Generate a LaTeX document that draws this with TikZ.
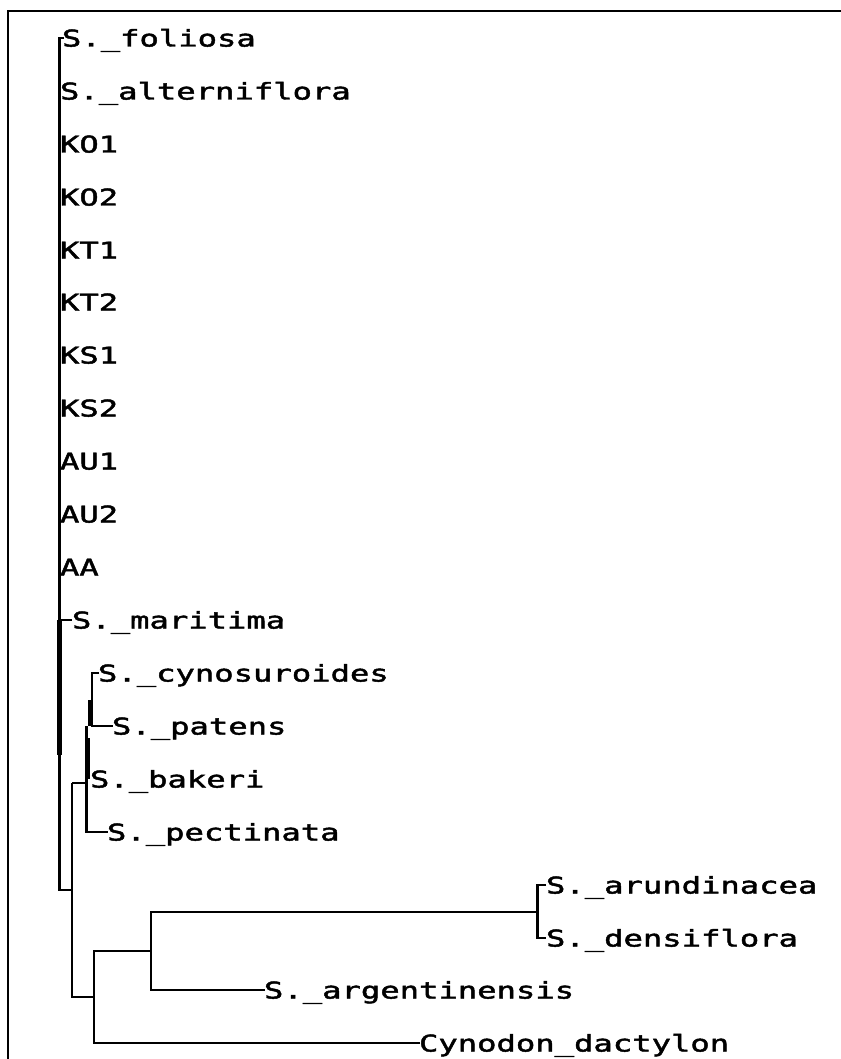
\documentclass[tikz,border=0pt]{standalone}
\usepackage{fontspec}
\newfontfamily\treefont[FakeStretch=1.4,FakeBold=2]{DejaVu Sans Mono}
\begin{document}
\begin{tikzpicture}[x=1pt,y=-1pt,
  branch/.style={draw=black,line width=2.8pt,line join=miter},
  fat/.style={draw=black,line width=5.8pt},
  taxon/.style={anchor=base west,inner sep=0pt,outer sep=0pt,text=black,font=\treefont\fontsize{23}{23}\selectfont}]
\useasboundingbox (0,0) rectangle (840,1059);
% frame
\coordinate (fbl) at (8,1062);
\coordinate (ftl) at (8,11);
\coordinate (ftr) at (843,11);
\draw[line width=2.4pt] (fbl) -- (ftl) -- (ftr);

% internal nodes
\coordinate (pA) at (59.5,38);     % polytomy top
\coordinate (pAb) at (59.5,890);   % polytomy bottom
\coordinate (pAf1) at (59.5,620);
\coordinate (pAf2) at (59.5,755);
\coordinate (root) at (72,783);
\coordinate (rootb) at (72,997);
\coordinate (pB) at (86.5,726);
\coordinate (pBb) at (86.5,832);
\coordinate (pBf1) at (87.5,738);
\coordinate (pBf2) at (87.5,779);
\coordinate (pB1) at (92,673);
\coordinate (pB1b) at (92,726);
\coordinate (pB1f) at (89.5,700);
\coordinate (pC) at (94,951);
\coordinate (pCb) at (94,1043);
\coordinate (pD) at (151,912);
\coordinate (pDb) at (151,990);
\coordinate (pE) at (537.5,885);
\coordinate (pEb) at (537.5,938);

% tick ends
\coordinate (t0) at (64,38);
\coordinate (t11) at (72,620);
\coordinate (t12) at (99,673);
\coordinate (t13) at (113,726);
\coordinate (t15) at (108,832);
\coordinate (t16) at (546,885);
\coordinate (t17) at (546,938);
\coordinate (t18) at (265,990);
\coordinate (t19) at (420,1043);

% labels
\node[taxon] (foliosa) at (62,46.5) {S.\_foliosa};
\node[taxon] (alterniflora) at (60,99.5) {S.\_alterniflora};
\node[taxon] (KO1) at (60,152.5) {KO1};
\node[taxon] (KO2) at (60,205.5) {KO2};
\node[taxon] (KT1) at (60,258.5) {KT1};
\node[taxon] (KT2) at (60,310.5) {KT2};
\node[taxon] (KS1) at (60,363.5) {KS1};
\node[taxon] (KS2) at (60,416.5) {KS2};
\node[taxon] (AU1) at (60,469.5) {AU1};
\node[taxon] (AU2) at (60,522.5) {AU2};
\node[taxon] (AA) at (60,575.5) {AA};
\node[taxon] (maritima) at (72,628.5) {S.\_maritima};
\node[taxon] (cyno) at (98,681.5) {S.\_cynosuroides};
\node[taxon] (patens) at (112,734.5) {S.\_patens};
\node[taxon] (bakeri) at (90,787.5) {S.\_bakeri};
\node[taxon] (pectinata) at (107,840.5) {S.\_pectinata};
\node[taxon] (arund) at (546,893.5) {S.\_arundinacea};
\node[taxon] (dens) at (546,946.5) {S.\_densiflora};
\node[taxon] (argent) at (264,998.5) {S.\_argentinensis};
\node[taxon] (cynodon) at (419,1051.5) {Cynodon\_dactylon};

% polytomy clade
\draw[branch] (t0) -- (pA) -- (pAb) -- (root |- pAb);
\draw[fat] (pAf1) -- (pAf2);
\draw[branch] (pAf1) -- (t11);
% clade B
\draw[branch] (t12) -- (pB1) -- (pB1b) -- (t13);
\draw[line width=3pt] (pB1f) -- (pB1f |- pB1b);
\draw[branch] (root) -- (pB |- root);
\draw[branch] (pB) -- (pBb) -- (t15);
\draw[line width=4.8pt] (pBf1) -- (pBf2);
% root
\draw[branch] (root) -- (rootb) -- (pC |- rootb);
% clade C
\draw[branch] (pD |- pC) -- (pC) -- (pCb) -- (t19);
\draw[branch] (pE |- pD) -- (pD) -- (pDb) -- (t18);
\draw[branch] (t16) -- (pE) -- (pEb) -- (t17);
\end{tikzpicture}
\end{document}
